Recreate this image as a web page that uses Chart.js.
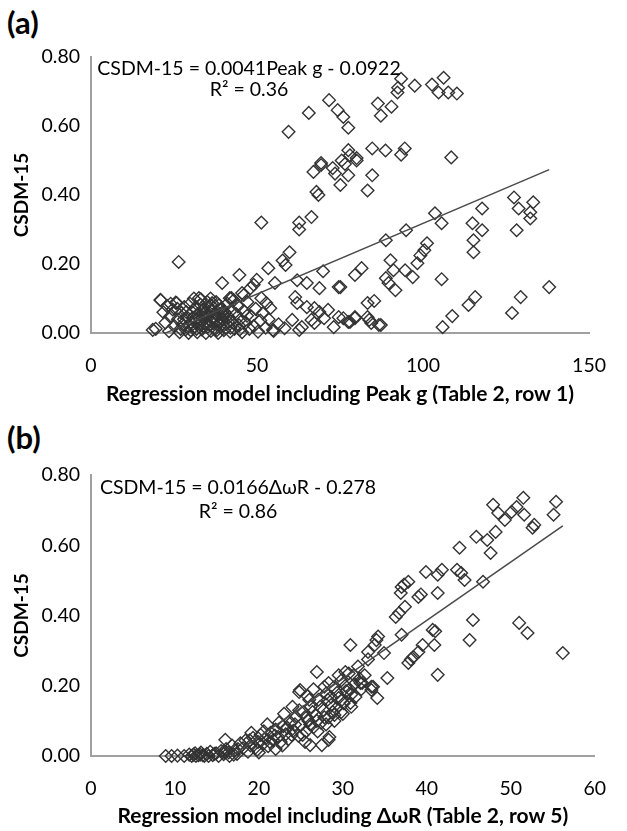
<!DOCTYPE html>
<html>
<head>
<meta charset="utf-8">
<script src="https://cdn.jsdelivr.net/npm/chart.js@4/dist/chart.umd.min.js"></script>
<style>
  html, body { margin: 0; padding: 0; background: #fff; }
  body { width: 627px; height: 831px; position: relative; overflow: hidden; font-family: Lato, "Open Sans", sans-serif; }
  canvas { position: absolute; left: 0; }
  #chartA { top: 0; }
  #chartB { top: 415px; }
  .panel { position: absolute; left: 7px; font-weight: bold; font-size: 31px; color: #000; line-height: 1; }
</style>
</head>
<body>
<div class="panel" style="top:7px">(a)</div>
<div class="panel" style="top:422px">(b)</div>
<canvas id="chartA" width="627" height="415"></canvas>
<canvas id="chartB" width="627" height="416"></canvas>
<script>
// CSDM-15 against predicted value, [model value, CSDM-15]
const peakG = [
  [93.4,0.737],[92.5,0.711],[92.3,0.697],[97.5,0.717],[102.7,0.72],[106.2,0.74],[104.7,0.697],[107.6,0.697],
  [110.2,0.694],[86.4,0.665],[90.5,0.656],[87.3,0.63],[71.7,0.675],[74.3,0.646],[76.0,0.626],[77.5,0.595],
  [65.6,0.638],[59.5,0.583],[69.3,0.487],[67.0,0.467],[72.8,0.478],[73.5,0.462],[75.5,0.50],[77.5,0.53],
  [78.0,0.515],[76.5,0.49],[84.7,0.535],[88.7,0.529],[94.5,0.535],[93.4,0.517],[108.5,0.509],[80.0,0.50],
  [77.5,0.457],[75.1,0.429],[84.7,0.457],[83.3,0.413],[68.5,0.40],[62.7,0.32],[62.7,0.30],[66.4,0.336],
  [51.3,0.32],[67.9,0.409],[69.3,0.493],[80.0,0.507],
  [127.4,0.393],[128.8,0.361],[133.2,0.379],[132.3,0.35],[132.3,0.332],[128.2,0.298],[117.8,0.361],[114.9,0.318],
  [117.8,0.298],[115.2,0.269],[115.2,0.234],[103.6,0.347],[105.6,0.318],[94.9,0.298],[88.8,0.269],[101.2,0.26],
  [100.4,0.24],[99.2,0.225],[90.2,0.211],[81.5,0.188],[79.5,0.168],[88.8,0.159],[91.1,0.182],[94.6,0.182],
  [96.9,0.162],[91.7,0.124],[89.6,0.145],[98.3,0.202],[105.6,0.156],[138.0,0.133],[129.4,0.104],[126.8,0.058],
  [115.7,0.104],[113.7,0.081],[108.8,0.049],[105.9,0.017],[83.3,0.087],[85.3,0.093],[75.1,0.133],[76.0,0.043],
  [78.0,0.032],[79.5,0.046],[83.3,0.046],[84.4,0.029],[87.3,0.023],[69.9,0.179],[62.1,0.153],[65.0,0.145],
  [68.8,0.13],[74.6,0.133],[62.1,0.087],[65.0,0.075],[67.3,0.072],[68.8,0.061],[71.4,0.067],[70.2,0.043],
  [73.1,0.017],[74.6,0.046],[77.5,0.032],[79.5,0.043],[83.8,0.038],[86.7,0.023],[63.5,0.017],[66.4,0.038],
  [60.6,0.038],[58.3,0.014],[54.8,0.009],[62.7,0.009],[67.3,0.029],[61.5,0.104],[54.0,0.072],[59.8,0.234],
  [57.7,0.21],[58.6,0.197],[53.4,0.188],[44.7,0.168],[39.5,0.145],[49.9,0.154],[49.0,0.14],[55.4,0.145],
  [26.4,0.206],[51.3,0.101],[52.8,0.087],[45.5,0.116],[42.3,0.101],[20.9,0.096],[32.5,0.101],[41.8,0.101],
  [18.6,0.009],[25.8,0.087],[28.7,0.061],[33.1,0.098],[36.5,0.087],[38.9,0.067],
  [19.5,0.012],[21.0,0.095],[21.8,0.060],[22.4,0.030],[22.9,0.078],[23.5,0.005],[23.8,0.048],[24.6,0.068],
  [25.1,0.020],[25.5,0.088],[26.2,0.040],[26.7,0.002],[27.2,0.058],[27.6,0.025],[28.1,0.075],[28.5,0.010],
  [29.0,0.045],[29.4,0.000],[29.8,0.085],[30.2,0.030],[30.5,0.060],[30.9,0.015],[31.3,0.072],[31.6,0.040],
  [32.0,0.002],[32.3,0.055],[32.7,0.025],[33.0,0.082],[33.4,0.010],[33.7,0.046],[34.0,0.068],[34.2,0.030],
  [34.6,0.000],[34.9,0.052],[35.2,0.018],[35.5,0.075],[35.8,0.038],[36.1,0.006],[36.4,0.062],[36.8,0.028],
  [37.1,0.045],[37.4,0.012],[37.7,0.090],[38.0,0.034],[38.3,0.000],[38.6,0.056],[39.0,0.020],[39.3,0.072],
  [39.6,0.040],[40.0,0.008],[40.3,0.060],[40.7,0.026],[41.1,0.085],[41.5,0.046],[41.9,0.004],[42.3,0.066],
  [42.8,0.030],[43.2,0.012],[43.7,0.055],[44.2,0.078],[44.6,0.022],[45.0,0.040],[45.5,0.002],[46.0,0.064],
  [46.6,0.030],[47.1,0.090],[47.7,0.012],[48.3,0.048],[49.0,0.020],[49.6,0.070],[50.3,0.004],[51.0,0.036],
  [51.8,0.058],[52.6,0.015],[53.5,0.040],[55.0,0.006],[56.5,0.025],[36.0,0.100],[31.0,0.100],[28.0,0.040],
  [43.0,0.095],[24.0,0.085],[26.0,0.070],[46.0,0.110],[48.0,0.130],[38.5,0.080],[33.8,0.020],[35.0,0.090],
  [40.0,0.050],[42.0,0.015],[30.0,0.008],
  [31.8,0.012],[32.9,0.040],[34.4,0.058],[35.7,0.024],[36.6,0.044],[37.9,0.008],[38.8,0.030],[39.8,0.062],
  [40.5,0.014],[41.3,0.032],[33.2,0.064],[36.2,0.080],[38.2,0.050],[30.7,0.045],[29.2,0.022],[27.0,0.012],
  [44.8,0.010],[47.0,0.050]
];

const deltaWR = [
  [55.4,0.724],[55.1,0.687],[51.5,0.735],[50.7,0.709],[50.1,0.695],[51.6,0.687],[52.8,0.658],[52.6,0.650],
  [47.9,0.715],[48.5,0.692],[49.3,0.672],[48.2,0.638],[47.2,0.615],[47.6,0.578],[45.9,0.624],[43.9,0.593],
  [46.7,0.496],[39.9,0.524],[41.3,0.516],[41.8,0.530],[43.6,0.530],[44.1,0.521],[44.5,0.501],[41.3,0.464],
  [37.0,0.481],[37.8,0.496],[37.3,0.488],[36.9,0.464],[39.0,0.453],[39.3,0.460],[37.4,0.425],[36.7,0.407],
  [36.3,0.396],[45.5,0.387],[51.0,0.379],[52.0,0.350],[56.2,0.293],[45.1,0.330],[40.7,0.359],[41.0,0.355],
  [40.9,0.316],[39.5,0.316],[39.0,0.296],[38.4,0.282],[37.8,0.265],[38.1,0.275],[41.3,0.231],[37.0,0.345],
  [34.0,0.330],[33.8,0.316],[34.9,0.293],[35.3,0.222],[33.6,0.197],[34.1,0.165],[30.9,0.316],[33.0,0.296],
  [34.2,0.340],[26.9,0.239],[30.3,0.239],[32.1,0.208],[31.5,0.168],[30.9,0.151],[29.8,0.125],[29.0,0.117],
  [24.8,0.182],[25.8,0.170],[28.3,0.046],[27.5,0.031],[26.1,0.031],[27.8,0.197],[28.6,0.168],[28.3,0.208],
  [24.9,0.188],[32.3,0.208],[33.4,0.197],[28.4,0.054],[19.1,0.066],[16.0,0.046],[33.4,0.188],
  [8.9,0.000],[9.6,0.000],[10.3,0.001],[11.1,0.000],[11.7,0.004],[12.0,0.000],[12.4,0.008],[12.8,0.002],
  [13.1,0.010],[13.5,0.000],[13.8,0.006],[14.2,0.012],[14.5,0.002],[14.9,0.008],[15.2,0.000],[15.5,0.014],
  [15.8,0.005],[16.1,0.020],[16.4,0.010],[16.8,0.030],[17.1,0.016],[17.4,0.006],[17.8,0.036],[18.1,0.022],
  [18.4,0.044],[18.7,0.012],[19.0,0.030],[19.3,0.052],[19.6,0.024],[19.9,0.040],[20.2,0.060],[20.5,0.035],
  [20.8,0.050],[21.1,0.028],[21.4,0.066],[21.7,0.045],[22.0,0.075],[22.3,0.055],[22.6,0.040],[22.9,0.085],
  [23.2,0.062],[23.5,0.048],[23.8,0.095],[24.1,0.072],[24.4,0.110],[24.7,0.058],[25.0,0.088],[25.3,0.125],
  [25.6,0.070],[25.9,0.100],[26.2,0.140],[26.5,0.082],[26.8,0.115],[27.1,0.160],[27.4,0.095],[27.7,0.130],
  [28.0,0.178],[28.3,0.110],[28.6,0.145],[28.9,0.195],[29.2,0.135],[29.5,0.165],[29.8,0.215],[30.1,0.150],
  [30.4,0.185],[30.7,0.235],[31.0,0.175],[31.4,0.205],[31.8,0.255],[32.2,0.190],[32.6,0.230],[33.0,0.275],
  [23.0,0.120],[24.0,0.140],[21.0,0.090],[25.5,0.040],[26.0,0.160],[22.0,0.020],[20.0,0.010],[27.0,0.070],
  [28.0,0.090],[29.0,0.100],[30.0,0.120],[31.0,0.140],[26.5,0.190],[29.5,0.230],[12.5,0.000],[14.0,0.000],
  [16.5,0.000],[13.0,0.004],
  [17.5,0.020],[18.9,0.045],[19.8,0.018],[20.6,0.070],[21.3,0.040],[21.9,0.058],[22.4,0.095],[22.8,0.030],
  [23.4,0.080],[23.9,0.060],[24.3,0.090],[24.8,0.130],[25.2,0.060],[25.7,0.110],[26.1,0.090],[26.4,0.125],
  [26.9,0.100],[27.3,0.140],[27.8,0.110],[28.2,0.160],[28.8,0.125],[29.3,0.180],[29.9,0.160],[30.3,0.200],
  [30.8,0.190],[31.3,0.230],[32.0,0.220],[12.2,0.004],[13.3,0.002],[14.7,0.006],[15.9,0.010],[17.0,0.004]
];

// linear fits as printed on each panel
const fitA = [0.0041, -0.0922];
const fitB = [0.0166, -0.278];
const yTicks = [0, 0.2, 0.4, 0.6, 0.8];
const xTicksA = [0, 50, 100, 150];
const xTicksB = [0, 10, 20, 30, 40, 50, 60];

const FONT = 'Lato, "Open Sans", sans-serif';
const INK = '#333';
const AXIS = '#a0a0a0';

function trend(points, fit) {
  const xs = points.map(p => p[0]);
  const lo = Math.min(...xs), hi = Math.max(...xs);
  return [lo, hi].map(x => ({ x: x, y: fit[0] * x + fit[1] }));
}

// equation text drawn inside the plot area
const eqLabel = {
  id: 'eqLabel',
  afterDraw(chart, args, opts) {
    const { ctx, chartArea } = chart;
    ctx.save();
    ctx.fillStyle = '#000';
    ctx.textAlign = 'center';
    ctx.textBaseline = 'middle';
    ctx.font = '19.5px ' + FONT;
    const cx = chartArea.left + opts.dx;
    ctx.fillText(opts.lines[0], cx, chartArea.top + opts.dy[0]);
    ctx.fillText(opts.lines[1], cx, chartArea.top + opts.dy[1]);
    ctx.restore();
  }
};

function makeChart(id, points, fit, xTicks, xTitle, box) {
  const xMax = xTicks[xTicks.length - 1];
  return new Chart(document.getElementById(id), {
    type: 'scatter',
    data: {
      datasets: [
        {
          type: 'line',
          data: trend(points, fit),
          borderColor: '#4a4a4a',
          borderWidth: 1.5,
          pointRadius: 0,
          fill: false
        },
        {
          data: points.map(p => ({ x: p[0], y: p[1] })),
          pointStyle: 'rectRot',
          pointRadius: 6.3,
          borderColor: INK,
          borderWidth: 1.4,
          backgroundColor: 'rgba(0,0,0,0)',
          clip: false
        }
      ]
    },
    options: {
      responsive: false,
      animation: false,
      devicePixelRatio: 1,
      layout: { padding: { top: box.top, right: box.right, left: 0, bottom: 0 } },
      plugins: {
        legend: { display: false },
        tooltip: { enabled: false },
        eqLabel: box.eq
      },
      scales: {
        x: {
          type: 'linear',
          min: 0,
          max: xMax,
          afterBuildTicks: s => { s.ticks = xTicks.map(v => ({ value: v })); },
          grid: { display: false, drawTicks: false },
          border: { display: true, color: AXIS, width: 2 },
          ticks: { color: '#000', padding: 21, font: { family: FONT, size: 19.5 } },
          title: {
            display: true,
            text: xTitle,
            color: '#000',
            font: { family: FONT, size: 21, weight: 'bold' },
            padding: { top: 0, bottom: box.titlePad }
          },
          afterFit: s => { s.height = box.xHeight; }
        },
        y: {
          min: 0,
          max: 0.8,
          afterBuildTicks: s => { s.ticks = yTicks.map(v => ({ value: v })); },
          grid: { display: false, drawTicks: false },
          border: { display: true, color: AXIS, width: 2 },
          ticks: {
            color: '#000',
            padding: 11,
            font: { family: FONT, size: 19.5 },
            callback: v => v.toFixed(2)
          },
          title: {
            display: true,
            text: 'CSDM-15',
            color: '#000',
            font: { family: FONT, size: 19, weight: 'bold' },
            padding: { top: 10, bottom: 0 }
          },
          afterFit: s => { s.width = 91; }
        }
      }
    },
    plugins: [eqLabel]
  });
}

makeChart('chartA', peakG, fitA, xTicksA,
  'Regression model including Peak g (Table 2, row 1)',
  {
    top: 57, right: 19, xHeight: 82, titlePad: 8,
    eq: { dx: 158, dy: [12, 33], lines: ['CSDM-15 = 0.0041Peak g - 0.0922', 'R\u00b2 = 0.36'] }
  });

makeChart('chartB', deltaWR, fitB, xTicksB,
  'Regression model including \u0394\u03c9R (Table 2, row 5)',
  {
    top: 60, right: 14, xHeight: 75, titlePad: 2,
    eq: { dx: 147, dy: [13, 37], lines: ['CSDM-15 = 0.0166\u0394\u03c9R - 0.278', 'R\u00b2 = 0.86'] }
  });
</script>
</body>
</html>
